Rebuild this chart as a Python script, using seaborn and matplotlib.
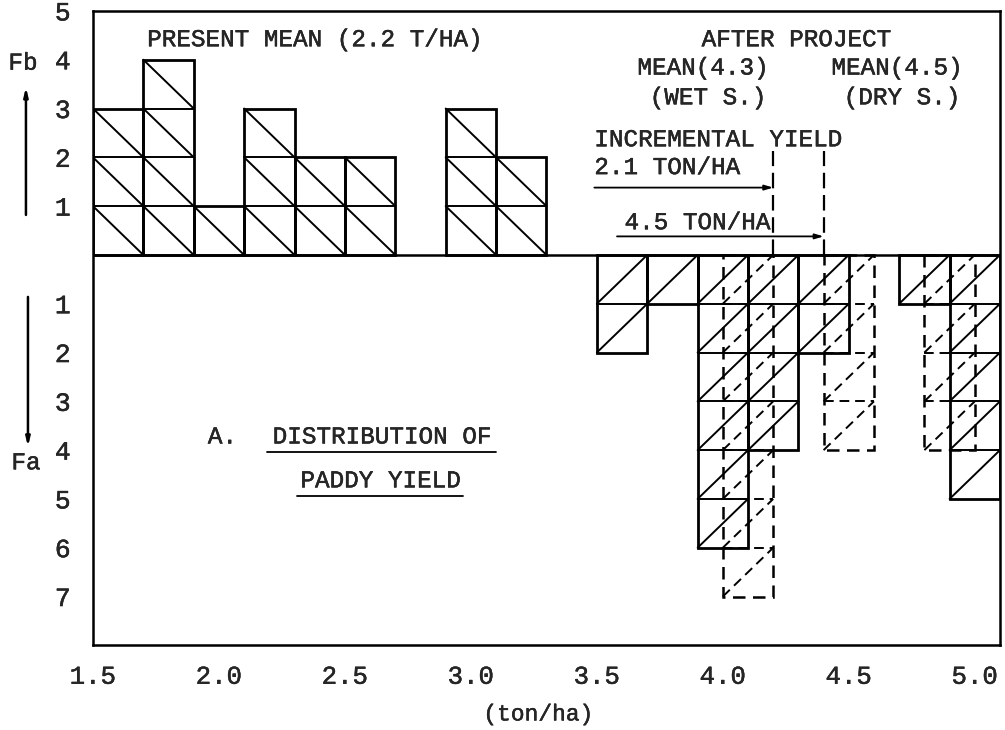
import numpy as np
import pandas as pd
import matplotlib.pyplot as plt
import matplotlib.patheffects as pe
from matplotlib.text import Text
import seaborn as sns

# paddy yield classes, 0.2 ton/ha bins (bar centres) and number of samples
present_centres = [1.6, 1.8, 2.0, 2.2, 2.4, 2.6, 3.0, 3.2]
present_counts = [3, 4, 1, 3, 2, 2, 3, 2]

wet_centres = [3.6, 3.8, 4.0, 4.2, 4.4, 4.8, 5.0]
wet_counts = [2, 1, 6, 4, 2, 1, 5]

dry_centres = [4.1, 4.5, 4.9]
dry_counts = [7, 4, 4]

bin_width = 0.2
x_ticks = [1.5, 2.0, 2.5, 3.0, 3.5, 4.0, 4.5, 5.0]
x_labels = ["1.5", "2.0", "2.5", "3.0", "3.5", "4.0", "4.5", "5.0"]
y_ticks = [-7, -6, -5, -4, -3, -2, -1, 0, 1, 2, 3, 4, 5]
y_labels = ["7", "6", "5", "4", "3", "2", "1", "", "1", "2", "3", "4", "5"]

wet_mean_line = 4.2
dry_mean_line = 4.4

sns.set_style("white")
plt.rcParams["font.family"] = ["Liberation Mono", "DejaVu Sans"]

DASH = (0, (5, 3))
FS = 17.5


def draw_cells(ax, centres, counts, sign, ls="-", lw=1.4):
    # row dividers and one diagonal per unit cell, like the hand drawn chart
    for xc, n in zip(centres, counts):
        x0, x1 = xc - bin_width / 2, xc + bin_width / 2
        for k in range(1, n + 1):
            if sign > 0:
                ax.plot([x0, x1], [k, k - 1], color="black", lw=lw, ls=ls)
            else:
                ax.plot([x0, x1], [-k, -(k - 1)], color="black", lw=lw, ls=ls)
            if k < n:
                ax.plot([x0, x1], [sign * k, sign * k], color="black", lw=lw, ls=ls)


fig, ax = plt.subplots(figsize=(10.05, 7.30), dpi=100)
fig.subplots_adjust(left=0.0925, right=0.995, top=0.985, bottom=0.116)

# present situation (upwards) and after project (downwards)
sns.barplot(x=present_centres, y=present_counts, native_scale=True, orient="x",
            width=1.0, fill=False, color="black", linewidth=2.0, errorbar=None, ax=ax)
sns.barplot(x=wet_centres, y=[-c for c in wet_counts], native_scale=True, orient="x",
            width=1.0, fill=False, color="black", linewidth=2.0, errorbar=None, ax=ax)
sns.barplot(x=dry_centres, y=[-c for c in dry_counts], native_scale=True, orient="x",
            width=0.5, fill=False, color="black", linewidth=1.8, linestyle=DASH,
            errorbar=None, ax=ax)

draw_cells(ax, present_centres, present_counts, 1)
draw_cells(ax, wet_centres, wet_counts, -1)
draw_cells(ax, dry_centres, dry_counts, -1, ls=DASH, lw=1.4)

ax.axhline(0, color="black", lw=1.8)

# mean lines and incremental yield arrows
ax.vlines([wet_mean_line, dry_mean_line], 0, 2.12, color="black", lw=1.6,
          linestyles=(0, (7, 3)))
arrow = dict(arrowstyle="-|>,head_length=0.5,head_width=0.15", color="black",
             lw=1.3, shrinkA=0, shrinkB=0)
ax.annotate("", xy=(wet_mean_line, 1.38), xytext=(3.49, 1.38), arrowprops=arrow)
ax.annotate("", xy=(dry_mean_line, 0.38), xytext=(3.58, 0.38), arrowprops=arrow)

ax.text(3.49, 2.36, "INCREMENTAL YIELD", fontsize=FS, ha="left", va="center")
ax.text(3.49, 1.79, "2.1 TON/HA", fontsize=FS, ha="left", va="center")
ax.text(3.61, 0.66, "4.5 TON/HA", fontsize=FS, ha="left", va="center")

ax.text(2.377, 4.41, "PRESENT MEAN (2.2 T/HA)", fontsize=FS, ha="center", va="center")
ax.text(4.29, 4.41, "AFTER PROJECT", fontsize=FS, ha="center", va="center")
ax.text(3.92, 3.83, "MEAN(4.3)", fontsize=FS, ha="center", va="center")
ax.text(4.69, 3.83, "MEAN(4.5)", fontsize=FS, ha="center", va="center")
ax.text(3.94, 3.22, "(WET S.)", fontsize=FS, ha="center", va="center")
ax.text(4.71, 3.22, "(DRY S.)", fontsize=FS, ha="center", va="center")

ax.text(1.956, -3.73, "A.", fontsize=FS, ha="left", va="center")
ax.text(2.645, -3.73, "DISTRIBUTION OF", fontsize=FS, ha="center", va="center")
ax.plot([2.19, 3.10], [-4.03, -4.03], color="black", lw=1.3)
ax.text(2.64, -4.63, "PADDY YIELD", fontsize=FS, ha="center", va="center")
ax.plot([2.31, 2.97], [-4.94, -4.94], color="black", lw=1.3)

# Fb / Fa frequency labels outside the frame
ax.text(1.222, 3.93, "Fb", fontsize=FS, ha="center", va="center", clip_on=False)
ax.annotate("", xy=(1.234, 3.44), xytext=(1.234, 0.82), annotation_clip=False,
            arrowprops=dict(arrowstyle="-|>,head_length=0.5,head_width=0.12",
                            color="black", lw=1.8, shrinkA=0, shrinkB=0))
ax.text(1.234, -4.26, "Fa", fontsize=FS, ha="center", va="center", clip_on=False)
ax.annotate("", xy=(1.242, -3.93), xytext=(1.242, -0.86), annotation_clip=False,
            arrowprops=dict(arrowstyle="-|>,head_length=0.5,head_width=0.12",
                            color="black", lw=1.8, shrinkA=0, shrinkB=0))

ax.set_xlim(1.5, 5.1)
ax.set_ylim(-8.0, 5.0)
ax.set_xticks(x_ticks)
ax.set_xticklabels(x_labels, fontsize=18.5)
ax.set_yticks(y_ticks)
ax.set_yticklabels(y_labels, fontsize=19)
ax.tick_params(axis="x", direction="in", length=9, width=1.5, pad=14)
ax.tick_params(axis="y", direction="out", length=7, width=1.5, pad=9)
ax.set_xlabel("(ton/ha)", fontsize=16.5, labelpad=14)
ax.xaxis.set_label_coords(0.491, -0.09)
ax.set_ylabel("")

for side in ax.spines.values():
    side.set_color("black")
    side.set_linewidth(1.8)

# typewriter strokes in the scan are a little heavier than Liberation Mono
for t in fig.findobj(Text):
    t.set_path_effects([pe.Stroke(linewidth=0.3, foreground="black"), pe.Normal()])

fig.savefig("out.png", dpi=100)
